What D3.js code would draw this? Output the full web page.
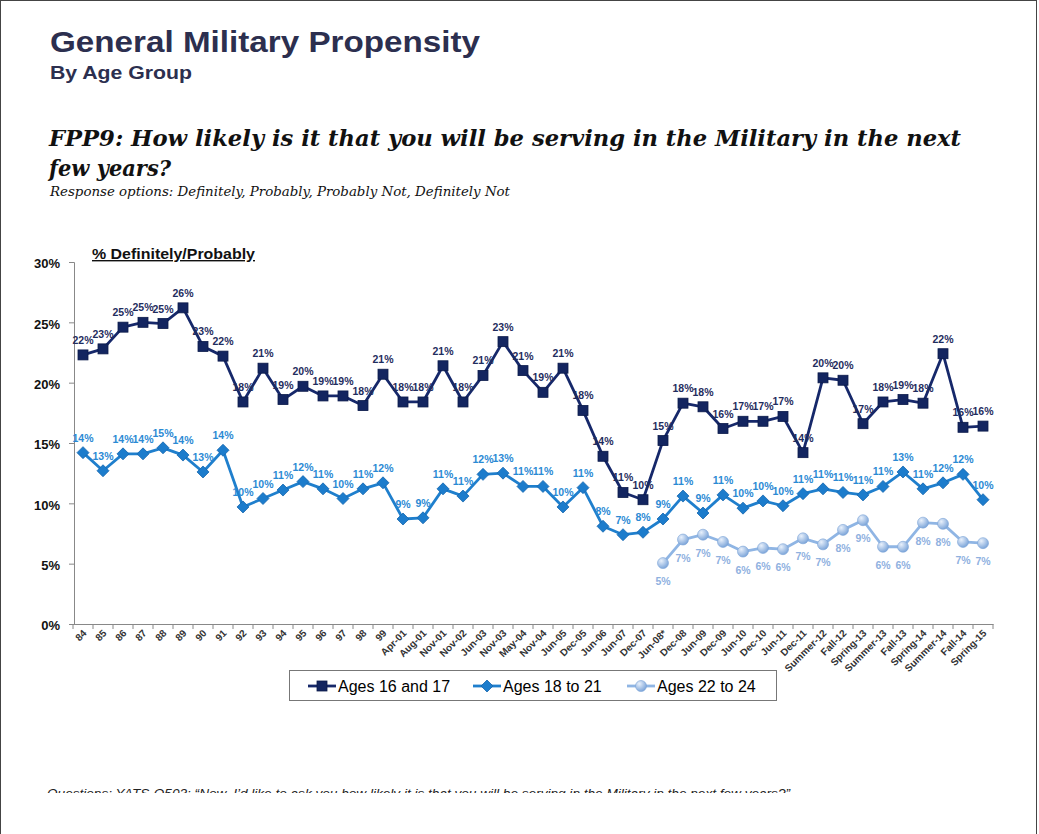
<!DOCTYPE html>
<html><head><meta charset="utf-8">
<script src="https://cdn.jsdelivr.net/npm/d3@7"></script>
<style>body{margin:0;background:#fff}svg{display:block}</style>
</head><body>
<svg id="c" width="1039" height="834"></svg>
<script>
const categories = ["84","85","86","87","88","89","90","91","92","93","94","95","96","97","98","99",
 "Apr-01","Aug-01","Nov-01","Nov-02","Jun-03","Nov-03","May-04","Nov-04","Jun-05","Dec-05","Jun-06","Jun-07","Dec-07","Jun-08*",
 "Dec-08","Jun-09","Dec-09","Jun-10","Dec-10","Jun-11","Dec-11","Summer-12","Fall-12","Spring-13","Summer-13","Fall-13","Spring-14","Summer-14","Fall-14","Spring-15"];
const ages16to17 = [22.3,22.8,24.6,25.0,24.9,26.2,23.0,22.2,18.4,21.2,18.6,19.7,18.9,18.9,18.1,20.7,
 18.4,18.4,21.4,18.4,20.6,23.4,21.0,19.2,21.2,17.7,13.9,10.9,10.3,15.2,
 18.3,18.0,16.2,16.8,16.8,17.2,14.2,20.4,20.2,16.6,18.4,18.6,18.3,22.4,16.3,16.4];
const ages18to21 = [14.2,12.7,14.1,14.1,14.6,14.0,12.6,14.4,9.7,10.4,11.1,11.8,11.2,10.4,11.2,11.7,
 8.7,8.8,11.2,10.6,12.4,12.5,11.4,11.4,9.7,11.3,8.1,7.4,7.6,8.7,
 10.6,9.2,10.7,9.6,10.2,9.8,10.8,11.2,10.9,10.7,11.4,12.6,11.2,11.7,12.4,10.3];
const ages22to24 = [null,null,null,null,null,null,null,null,null,null,null,null,null,null,null,null,
 null,null,null,null,null,null,null,null,null,null,null,null,null,5.05,
 7.0,7.4,6.8,6.0,6.3,6.2,7.1,6.6,7.8,8.6,6.4,6.4,8.4,8.3,6.8,6.7];
const yTicks = [0,5,10,15,20,25,30];
const seriesNames = ["Ages 16 and 17","Ages 18 to 21","Ages 22 to 24"];

const svg = d3.select("#c");
const defs = svg.append("defs");
const g1 = defs.append("radialGradient").attr("id","gc").attr("cx","35%").attr("cy","30%").attr("r","70%");
g1.append("stop").attr("offset","0%").attr("stop-color","#e8f0fb");
g1.append("stop").attr("offset","100%").attr("stop-color","#7fa7da");
defs.append("clipPath").attr("id","foot").append("rect").attr("x",0).attr("y",770).attr("width",1039).attr("height",23);

// frame
svg.append("rect").attr("x",0.5).attr("y",0.5).attr("width",1036).attr("height",840).attr("fill","none").attr("stroke","#444").attr("stroke-width",1);

// titles
svg.append("text").attr("x",50).attr("y",52).attr("font-family","Liberation Sans, Arial").attr("font-weight","bold").attr("font-size",30)
  .attr("textLength",430).attr("lengthAdjust","spacingAndGlyphs").attr("fill","#2c2f4f").text("General Military Propensity");
svg.append("text").attr("x",50).attr("y",79).attr("font-family","Liberation Sans, Arial").attr("font-weight","bold").attr("font-size",18)
  .attr("textLength",142).attr("lengthAdjust","spacingAndGlyphs").attr("fill","#2c2f4f").text("By Age Group");
svg.append("text").attr("x",49).attr("y",146).attr("font-family","DejaVu Serif, Liberation Serif").attr("font-style","italic").attr("font-weight","bold").attr("font-size",23)
  .attr("textLength",912).attr("lengthAdjust","spacingAndGlyphs").attr("fill","#111").text("FPP9:  How likely is it that you will be serving in the Military in the next");
svg.append("text").attr("x",49).attr("y",176).attr("font-family","DejaVu Serif, Liberation Serif").attr("font-style","italic").attr("font-weight","bold").attr("font-size",23)
  .attr("textLength",122).attr("lengthAdjust","spacingAndGlyphs").attr("fill","#111").text("few years?");
svg.append("text").attr("x",50).attr("y",196).attr("font-family","DejaVu Serif, Liberation Serif").attr("font-style","italic").attr("font-size",13)
  .attr("textLength",460).attr("lengthAdjust","spacingAndGlyphs").attr("fill","#111").text("Response options:  Definitely, Probably, Probably Not, Definitely Not");
svg.append("text").attr("x",92).attr("y",259).attr("font-family","Liberation Sans, Arial").attr("font-weight","bold").attr("font-size",14)
  .attr("textLength",163).attr("lengthAdjust","spacingAndGlyphs")
  .attr("text-decoration","underline").attr("fill","#111").text("% Definitely/Probably");

// scales
const x = d3.scaleBand().domain(categories).range([73,993]);
const cx = c => x(c) + x.bandwidth()/2;
const y = d3.scaleLinear().domain([0,30]).range([624,262]);

// y axis
const yAxis = svg.append("g").attr("transform","translate(74,0)")
  .call(d3.axisLeft(y).tickValues(yTicks).tickSize(5).tickFormat(d => d + "%"));
yAxis.select(".domain").attr("stroke","#888");
yAxis.selectAll(".tick line").attr("stroke","#888");
yAxis.selectAll(".tick text").attr("font-family","Liberation Sans, Arial").attr("font-weight","bold").attr("font-size",13).attr("fill","#111").attr("x",-14).attr("dy","0.45em");

// x axis
const xAxis = svg.append("g").attr("transform","translate(0,624)")
  .call(d3.axisBottom(x).tickSize(0).tickSizeOuter(0));
xAxis.select(".domain").attr("stroke","#888");
xAxis.selectAll(".tick text").attr("font-family","Liberation Sans, Arial").attr("font-weight","bold").attr("font-size",10).attr("fill","#333")
  .attr("text-anchor","end").attr("x",-4).attr("y",10).attr("dy",0).attr("transform","rotate(-45)");
// category boundary ticks
xAxis.selectAll(".bt").data(categories.concat(["_end"])).enter().append("line")
  .attr("x1",(d,i)=>73 + i*x.step()).attr("x2",(d,i)=>73 + i*x.step()).attr("y1",0).attr("y2",5).attr("stroke","#888");

const series = [
  {name:seriesNames[0], vals:ages16to17, line:"#16286a", mark:"square", lab:"#1f2d5e", above:true},
  {name:seriesNames[1], vals:ages18to21, line:"#1f7fcd", mark:"diamond", lab:"#2b8ad4", above:true},
  {name:seriesNames[2], vals:ages22to24, line:"#8fb5e4", mark:"circle", lab:"#8fb1df", above:false}
];

function drawMarker(sel, type){
  if(type==="square") sel.append("rect").attr("x",-5).attr("y",-5).attr("width",10).attr("height",10).attr("fill","#132560").attr("stroke","#0b1a4a").attr("stroke-width",0.8);
  else if(type==="diamond") sel.append("path").attr("d","M0,-6L6,0L0,6L-6,0Z").attr("fill","#1c7ccc").attr("stroke","#1566ad").attr("stroke-width",0.8);
  else sel.append("circle").attr("r",5.5).attr("fill","url(#gc)").attr("stroke","#7aa2d6").attr("stroke-width",0.6);
}

const line = d3.line().defined(d => d.v != null).x(d => cx(d.c)).y(d => y(d.v));
series.forEach(s => {
  const data = categories.map((c,i) => ({c, v:s.vals[i]}));
  svg.append("path").datum(data).attr("d", line).attr("fill","none").attr("stroke", s.line).attr("stroke-width",2.8).attr("stroke-linejoin","round");
  const pts = data.filter(d => d.v != null);
  svg.append("g").selectAll("g").data(pts).enter().append("g")
    .attr("transform", d => `translate(${cx(d.c)},${y(d.v)})`)
    .each(function(){ drawMarker(d3.select(this), s.mark); });
  svg.append("g").selectAll("text").data(pts).enter().append("text")
    .attr("x", d => cx(d.c)).attr("y", d => s.above ? y(d.v) - 11 : y(d.v) + 22)
    .attr("text-anchor","middle").attr("font-family","Liberation Sans, Arial").attr("font-weight","bold").attr("font-size",10.5)
    .attr("fill", s.lab).text(d => Math.round(d.v) + "%");
});

// legend
const lg = svg.append("g");
lg.append("rect").attr("x",289.5).attr("y",670.5).attr("width",487).attr("height",30).attr("fill","#fff").attr("stroke","#777");
const lx = [308, 473, 627];
series.forEach((s,i) => {
  const gg = lg.append("g").attr("transform",`translate(${lx[i]},686)`);
  gg.append("line").attr("x1",0).attr("x2",28).attr("stroke",s.line).attr("stroke-width",2.8);
  const m = gg.append("g").attr("transform","translate(14,0)");
  drawMarker(m, s.mark);
  gg.append("text").attr("x",30).attr("y",6).attr("font-family","Liberation Sans, Arial").attr("font-size",16).attr("fill","#000").text(s.name);
});

// footer (clipped)
svg.append("text").attr("x",47).attr("y",798).attr("clip-path","url(#foot)").attr("font-family","Liberation Sans, Arial").attr("font-style","italic").attr("font-size",13.5)
  .attr("textLength",743).attr("lengthAdjust","spacingAndGlyphs")
  .attr("fill","#222").text("Questions:  YATS-Q503:  “Now, I’d like to ask you how likely it is that you will be serving in the Military in the next few years?”");
</script>
</body></html>
